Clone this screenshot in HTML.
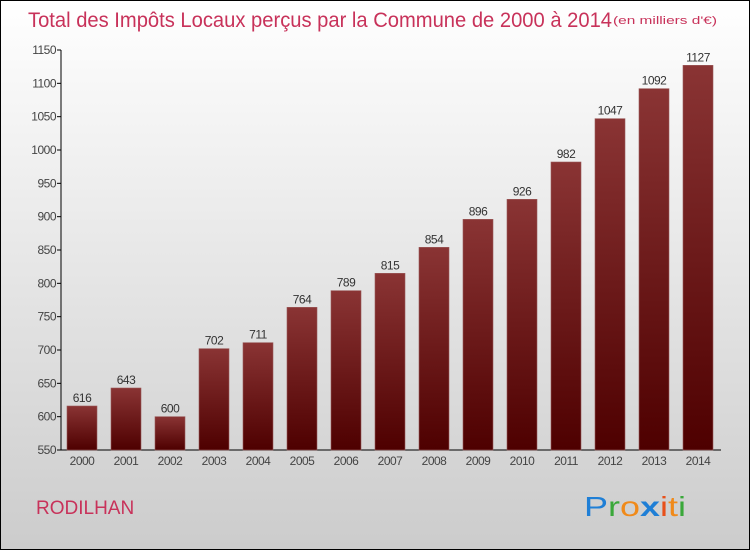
<!DOCTYPE html>
<html><head><meta charset="utf-8"><style>
body{margin:0}
svg{display:block;font-family:"Liberation Sans",sans-serif}
</style></head><body>
<svg id="c" width="750" height="550" viewBox="0 0 750 550">
<defs>
<linearGradient id="bg" x1="0" y1="0" x2="0" y2="1"><stop offset="0" stop-color="#ffffff"/><stop offset="1" stop-color="#cccccc"/></linearGradient>
<linearGradient id="bar" x1="0" y1="0" x2="0" y2="1"><stop offset="0" stop-color="#8a3434"/><stop offset="1" stop-color="#4e0000"/></linearGradient>
</defs>
<rect x="0.5" y="0.5" width="749" height="549" fill="url(#bg)" stroke="#000"/>
<text x="28" y="27" font-size="21" fill="#c8325a" textLength="584" lengthAdjust="spacingAndGlyphs">Total des Impôts Locaux perçus par la Commune de 2000 à 2014</text>
<text x="613" y="24" font-size="11" fill="#c8325a" textLength="104" lengthAdjust="spacingAndGlyphs">(en milliers d'€)</text>
<g id="axes"></g>
<g id="bars"></g>
<text x="36" y="514" font-size="19" fill="#c8325a">RODILHAN</text>
<g font-size="28">
<text x="584" y="516" textLength="102" lengthAdjust="spacingAndGlyphs"><tspan fill="#1f7fd6">P</tspan><tspan fill="#3aa83a">r</tspan><tspan fill="#f08a1a">o</tspan><tspan fill="#1f7fd6" font-weight="bold">x</tspan><tspan fill="#e8501a">i</tspan><tspan fill="#f08a1a">t</tspan><tspan fill="#3aa83a">i</tspan></text>
</g>
</svg>
<script>
const years=["2000","2001","2002","2003","2004","2005","2006","2007","2008","2009","2010","2011","2012","2013","2014"];
const values=[616,643,600,702,711,764,789,815,854,896,926,982,1047,1092,1127];
const yTicks=[550,600,650,700,750,800,850,900,950,1000,1050,1100,1150];
const NS="http://www.w3.org/2000/svg";
const y0=450,y1=50,vmin=550,vmax=1150;
function yS(v){return y0-(v-vmin)/(vmax-vmin)*(y0-y1);}
function xS(i){return 82+i*44;}
function mk(t,a,p){const e=document.createElementNS(NS,t);for(const k in a)e.setAttribute(k,a[k]);p.appendChild(e);return e;}
const ax=document.getElementById('axes'),bs=document.getElementById('bars');
const yl=mk('line',{x1:61,y1:50,x2:61,y2:450,stroke:'#000'},ax);


const xl=mk('line',{x1:61,y1:450,x2:721,y2:450,stroke:'#000'},ax);


yTicks.forEach(v=>{
 mk('line',{x1:57,x2:61,y1:yS(v),y2:yS(v),stroke:'#000'},ax);
 const t=mk('text',{x:56,y:yS(v)+4,'text-anchor':'end','font-size':12,fill:'#444','letter-spacing':'-0.5'},ax);
 t.textContent=v;
 
 
});
years.forEach((yr,i)=>{
 const v=values[i],x=xS(i);
 const r=mk('rect',{x:x-15,y:yS(v),width:30,height:y0-yS(v),fill:'url(#bar)',stroke:'#9a5a5a','stroke-width':0.6},bs);
 
 
 const l=mk('text',{x:x,y:yS(v)-4,'text-anchor':'middle','font-size':12,fill:'#333','letter-spacing':'-0.5'},bs);
 l.textContent=v;
 
 
 const t=mk('text',{x:x,y:465,'text-anchor':'middle','font-size':12,fill:'#444','letter-spacing':'-0.5'},ax);
 t.textContent=yr;
 
 
});
</script>
</body></html>
